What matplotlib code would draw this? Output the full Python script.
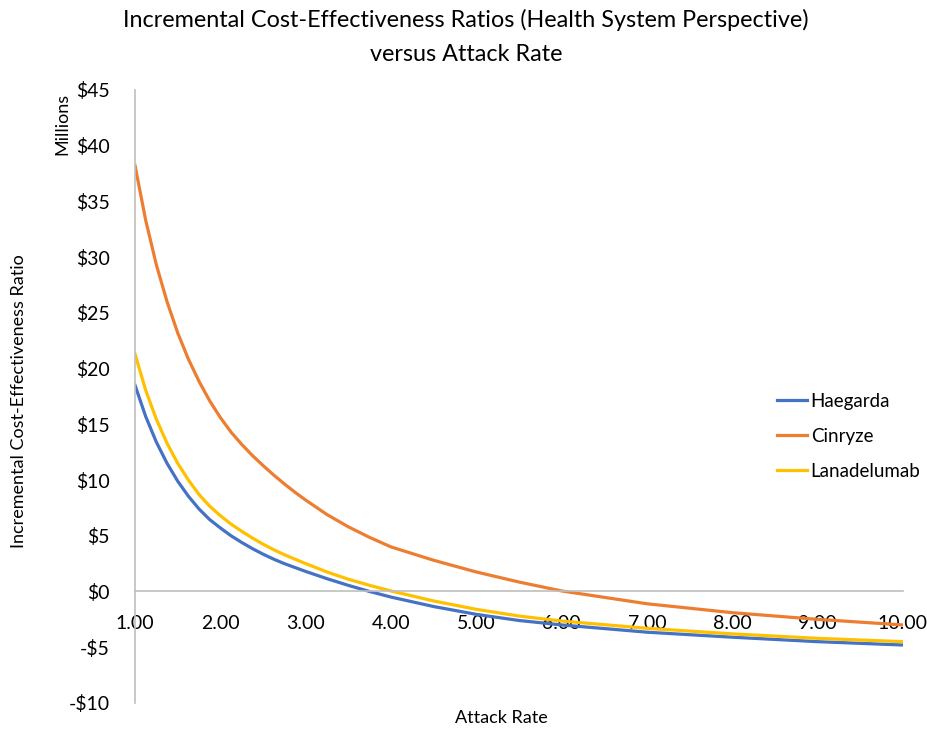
import numpy as np
import matplotlib.pyplot as plt
from matplotlib.ticker import FuncFormatter

plt.rcParams["font.family"] = ["Lato", "DejaVu Sans"]

# attack rate (x) and ICER in millions
attack_rate = [1.0, 1.125, 1.25, 1.375, 1.5, 1.625, 1.75, 1.875, 2.0, 2.125,
               2.25, 2.375, 2.5, 2.625, 2.75, 2.875, 3.0, 3.25, 3.5, 3.75,
               4.0, 4.5, 5.0, 5.5, 6.0, 7.0, 8.0, 9.0, 10.0]
haegarda = [18.5, 15.7, 13.4, 11.5, 9.9, 8.55, 7.4, 6.45, 5.7, 5.0,
            4.4, 3.85, 3.35, 2.9, 2.5, 2.15, 1.8, 1.15, 0.55, 0.0,
            -0.5, -1.35, -2.05, -2.6, -3.0, -3.65, -4.1, -4.5, -4.8]
cinryze = [38.2, 33.3, 29.3, 26.0, 23.2, 20.85, 18.85, 17.1, 15.6, 14.3,
           13.2, 12.2, 11.3, 10.45, 9.65, 8.9, 8.2, 6.9, 5.8, 4.85,
           4.0, 2.8, 1.75, 0.85, 0.05, -1.1, -1.9, -2.5, -3.0]
lanadelumab = [21.3, 18.05, 15.45, 13.3, 11.5, 10.0, 8.7, 7.65, 6.8, 6.05,
               5.4, 4.8, 4.25, 3.75, 3.3, 2.9, 2.5, 1.75, 1.1, 0.55,
               0.05, -0.85, -1.6, -2.2, -2.65, -3.3, -3.8, -4.2, -4.5]

series = [("Haegarda", haegarda, "#4472C4"),
          ("Cinryze", cinryze, "#ED7D31"),
          ("Lanadelumab", lanadelumab, "#FFC000")]

fig = plt.figure(figsize=(9.28, 7.3), dpi=100)
ax = fig.add_axes([0.1455, 0.037, 0.8275, 0.84])

for name, vals, col in series:
    ax.plot(attack_rate, vals, color=col, lw=2.3, label=name,
            solid_joinstyle="round")

ax.set_xlim(1, 10)
ax.set_ylim(-10, 45)
ax.set_yticks(range(-10, 50, 5))
ax.set_xticks(range(1, 11))
ax.yaxis.set_major_formatter(FuncFormatter(lambda v, p: ("-$%d" % abs(v)) if v < 0 else "$%d" % v))
ax.xaxis.set_major_formatter(FuncFormatter(lambda v, p: "%.2f" % v))

for s in ["top", "right"]:
    ax.spines[s].set_visible(False)
ax.spines["bottom"].set_position(("data", 0))
ax.spines["bottom"].set_color("#BFBFBF")
ax.spines["left"].set_color("#BFBFBF")
ax.spines["bottom"].set_linewidth(1.2)
ax.spines["left"].set_linewidth(1.2)
ax.tick_params(axis="both", length=0, labelsize=14)
ax.tick_params(axis="x", pad=17)
ax.tick_params(axis="y", pad=18)

fig.text(0.502, 0.972, "Incremental Cost-Effectiveness Ratios (Health System Perspective)",
         ha="center", va="center", fontsize=16.8)
fig.text(0.502, 0.925, "versus Attack Rate", ha="center", va="center", fontsize=16.8)
fig.text(0.54, 0.016, "Attack Rate", ha="center", va="center", fontsize=13)
fig.text(0.021, 0.45, "Incremental Cost-Effectiveness Ratio", rotation=90,
         ha="center", va="center", fontsize=13)
fig.text(0.067, 0.83, "Millions", rotation=90, ha="center", va="center", fontsize=13)

ax.legend(loc="center left", bbox_to_anchor=(0.814, 0.435), frameon=False,
          fontsize=13.5, handlelength=1.6, handletextpad=0.2, labelspacing=0.95)

fig.savefig("out.png", dpi=100)
